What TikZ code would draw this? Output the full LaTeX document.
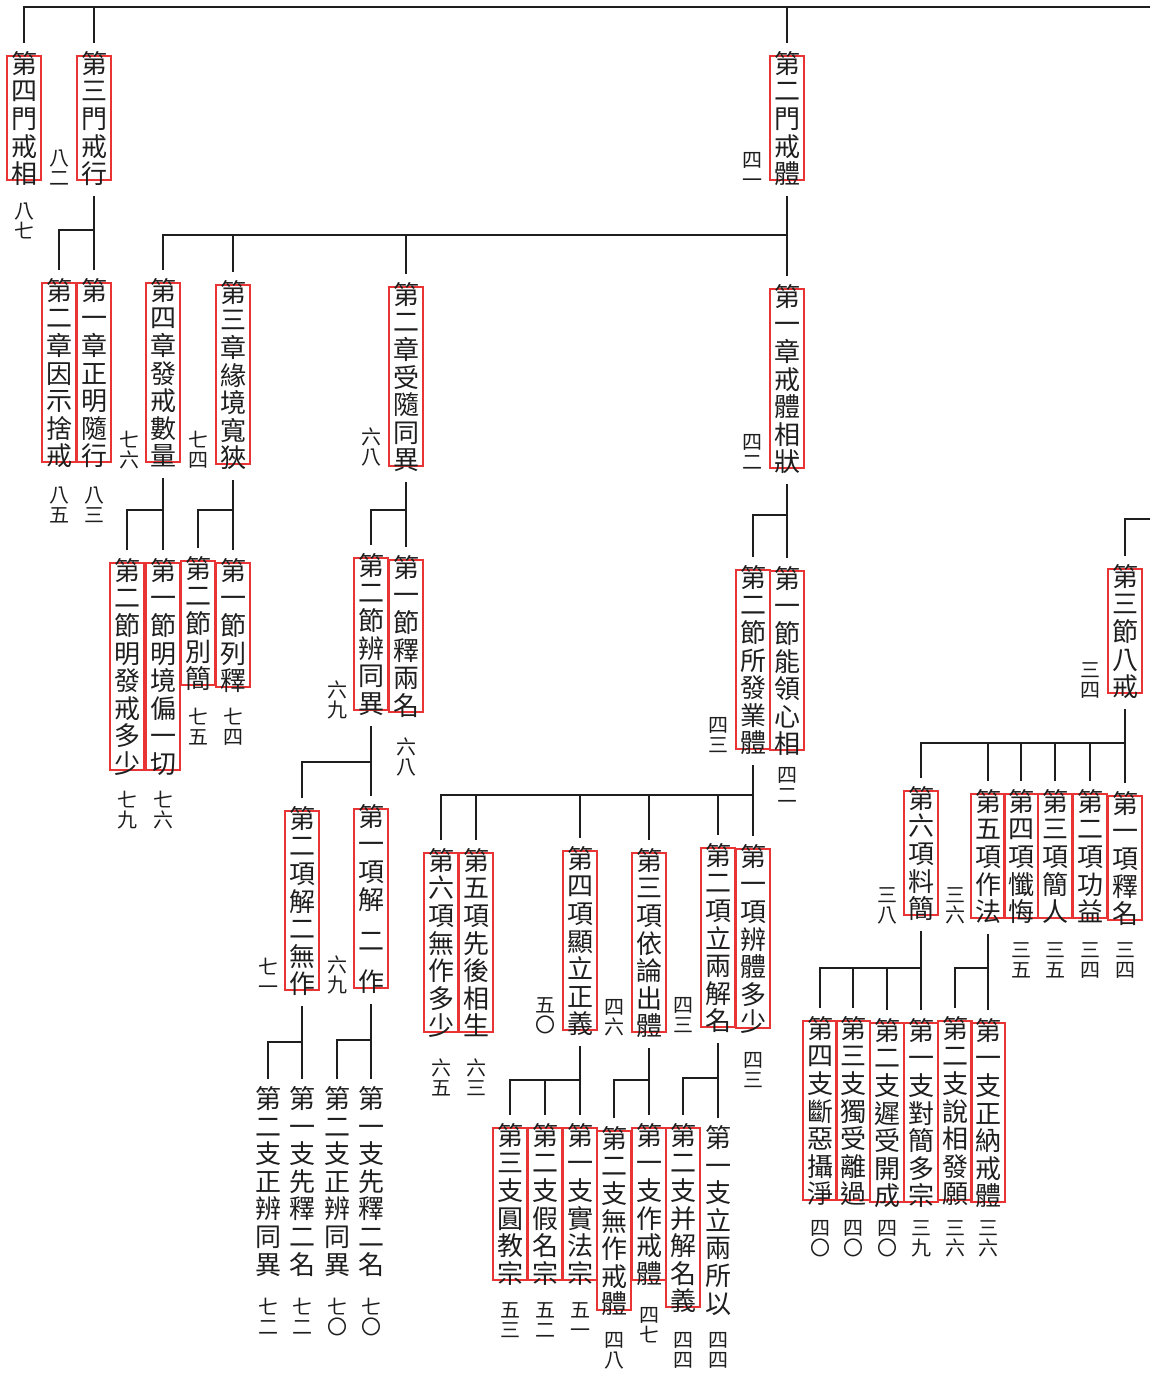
\documentclass[tikz,border=0pt]{standalone}
\usepackage{fontspec}
\newfontfamily\cjk{Noto Sans CJK TC}
\definecolor{boxred}{RGB}{232,52,52}
\definecolor{ink}{RGB}{30,30,30}
\newdimen\vtp \newdimen\vtw
\def\vtend{vtend-marker}
\def\hs{hs-marker}
\def\vtl#1{\ifx#1\vtend\else\ifx#1\hs\kern.5\vtp\else\hbox to\vtw{\vrule width0pt height.88\vtp depth.12\vtp\hss#1\hss}\fi\expandafter\vtl\fi}
\newcommand\vtm[1]{\vtp=27.6pt\vtw=26pt\vbox{\offinterlineskip\vtl#1\vtend}}
\newcommand\vtn[1]{\vtp=20.5pt\vtw=20pt\vbox{\offinterlineskip\vtl#1\vtend}}
\newcommand\brk[3]{\draw[ln] ([yshift=-16pt]#1.south) -- (#1.south |- 0,#2);
  \foreach \c in {#3}{\draw[ln] (#1.south |- 0,#2) -| ([yshift=13pt]\c.north);}}
\begin{document}
\begin{tikzpicture}[x=1pt,y=-1pt,
  ln/.style={draw=ink, line width=1.3pt, line cap=rect},
  tx/.style={font=\cjk\fontsize{26pt}{27.6pt}\selectfont, text=ink, inner xsep=4pt, inner ysep=-7pt, anchor=north},
  bx/.style={tx, draw=boxred, line width=1.9pt},
  nm/.style={font=\cjk\fontsize{20pt}{20.5pt}\selectfont, text=ink, inner sep=0pt, anchor=north}]
\useasboundingbox (0,0) rectangle (1149,1375);
% level 1
\node[bx] (A4) at (24,55) {\vtm{第四門戒相}};
\node[bx] (A3) at (94,55) {\vtm{第三門戒行}};
\node[bx] (A2) at (787,55) {\vtm{第二門戒體}};
\node[nm] (nA4) at (24,200) {\vtn{八七}};
\node[nm] (nA3) at (59,147) {\vtn{八二}};
\node[nm] (nA2) at (752,149) {\vtn{四一}};
% level 2
\node[bx] (B32) at (59,282) {\vtm{第二章因示捨戒}};
\node[bx] (B31) at (94,282) {\vtm{第一章正明隨行}};
\node[nm] (nB32) at (59,484) {\vtn{八五}};
\node[nm] (nB31) at (94,484) {\vtn{八三}};
\node[bx] (B24) at (163,282) {\vtm{第四章發戒數量}};
\node[bx] (B23) at (233,284) {\vtm{第三章緣境寬狹}};
\node[bx] (B22) at (406,286) {\vtm{第二章受隨同異}};
\node[bx] (B21) at (787,288) {\vtm{第一章戒體相狀}};
\node[nm] (nB24) at (129,429) {\vtn{七六}};
\node[nm] (nB23) at (198,429) {\vtn{七四}};
\node[nm] (nB22) at (371,426) {\vtn{六八}};
\node[nm] (nB21) at (752,431) {\vtn{四二}};
% level 3
\node[bx] (C242) at (127,562) {\vtm{第二節明發戒多少}};
\node[bx] (C241) at (163,562) {\vtm{第一節明境偏一切}};
\node[nm] (nC242) at (127,789) {\vtn{七九}};
\node[nm] (nC241) at (163,789) {\vtn{七六}};
\node[bx] (C232) at (198,560) {\vtm{第二節別簡}};
\node[bx] (C231) at (233,562) {\vtm{第一節列釋}};
\node[nm] (nC232) at (198,706) {\vtn{七五}};
\node[nm] (nC231) at (233,706) {\vtn{七四}};
\node[bx] (C222) at (371,557) {\vtm{第二節辨同異}};
\node[bx] (C221) at (406,559) {\vtm{第一節釋兩名}};
\node[nm] (nC222) at (337,679) {\vtn{六九}};
\node[nm] (nC221) at (406,736) {\vtn{六八}};
\node[bx] (C212) at (753,569) {\vtm{第二節所發業體}};
\node[bx] (C211) at (787,570) {\vtm{第一節能領心相}};
\node[nm] (nC212) at (718,714) {\vtn{四三}};
\node[nm] (nC211) at (787,764) {\vtn{四二}};
% level 4 left
\node[bx] (D2) at (302,810) {\vtm{第二項解二無作}};
\node[bx] (D1) at (371,808) {\vtm{第一項解\hs 二\hs 作}};
\node[nm] (nD2) at (268,956) {\vtn{七一}};
\node[nm] (nD1) at (337,954) {\vtn{六九}};
% level 5 left
\node[tx] (E22) at (268,1091) {\vtm{第二支正辨同異}};
\node[tx] (E21) at (302,1091) {\vtm{第一支先釋二名}};
\node[tx] (E12) at (337,1091) {\vtm{第二支正辨同異}};
\node[tx] (E11) at (371,1091) {\vtm{第一支先釋二名}};
\node[nm] (nE22) at (268,1296) {\vtn{七二}};
\node[nm] (nE21) at (302,1296) {\vtn{七二}};
\node[nm] (nE12) at (337,1296) {\vtn{七〇}};
\node[nm] (nE11) at (371,1296) {\vtn{七〇}};
% level 4 middle
\node[bx] (F6) at (441,852) {\vtm{第六項無作多少}};
\node[bx] (F5) at (476,852) {\vtm{第五項先後相生}};
\node[bx] (F4) at (580,850) {\vtm{第四項顯立正義}};
\node[bx] (F3) at (649,852) {\vtm{第三項依論出體}};
\node[bx] (F2) at (718,847) {\vtm{第二項立兩解名}};
\node[bx] (F1) at (753,848) {\vtm{第一項辨體多少}};
\node[nm] (nF6) at (441,1057) {\vtn{六五}};
\node[nm] (nF5) at (476,1057) {\vtn{六三}};
\node[nm] (nF4) at (545,994) {\vtn{五〇}};
\node[nm] (nF3) at (614,996) {\vtn{四六}};
\node[nm] (nF2) at (683,994) {\vtn{四三}};
\node[nm] (nF1) at (753,1049) {\vtn{四三}};
% level 5 middle
\node[bx] (G43) at (510,1127) {\vtm{第三支圓教宗}};
\node[bx] (G42) at (545,1127) {\vtm{第二支假名宗}};
\node[bx] (G41) at (580,1127) {\vtm{第一支實法宗}};
\node[bx] (G32) at (614,1130) {\vtm{第二支無作戒體}};
\node[bx] (G31) at (649,1127) {\vtm{第一支作戒體}};
\node[bx] (G22) at (683,1127) {\vtm{第二支并解名義}};
\node[tx] (G21) at (718,1130) {\vtm{第一支立兩所以}};
\node[nm] (nG43) at (510,1299) {\vtn{五三}};
\node[nm] (nG42) at (545,1299) {\vtn{五二}};
\node[nm] (nG41) at (580,1299) {\vtn{五一}};
\node[nm] (nG32) at (614,1329) {\vtn{四八}};
\node[nm] (nG31) at (649,1304) {\vtn{四七}};
\node[nm] (nG22) at (683,1329) {\vtn{四四}};
\node[nm] (nG21) at (718,1329) {\vtn{四四}};
% right side
\node[bx] (H) at (1125,568) {\vtm{第三節八戒}};
\node[nm] (nH) at (1090,659) {\vtn{三四}};
\node[bx] (I6) at (921,790) {\vtm{第六項料簡}};
\node[bx] (I5) at (988,793) {\vtm{第五項作法}};
\node[bx] (I4) at (1021,793) {\vtm{第四項懺悔}};
\node[bx] (I3) at (1055,793) {\vtm{第三項簡人}};
\node[bx] (I2) at (1090,793) {\vtm{第二項功益}};
\node[bx] (I1) at (1125,795) {\vtm{第一項釋名}};
\node[nm] (nI6) at (887,884) {\vtn{三八}};
\node[nm] (nI5) at (955,884) {\vtn{三六}};
\node[nm] (nI4) at (1021,939) {\vtn{三五}};
\node[nm] (nI3) at (1055,939) {\vtn{三五}};
\node[nm] (nI2) at (1090,939) {\vtn{三四}};
\node[nm] (nI1) at (1125,939) {\vtn{三四}};
\node[bx] (J4) at (820,1020) {\vtm{第四支斷惡攝淨}};
\node[bx] (J3) at (853,1020) {\vtm{第三支獨受離過}};
\node[bx] (J2) at (887,1022) {\vtm{第二支遲受開成}};
\node[bx] (J1) at (921,1022) {\vtm{第一支對簡多宗}};
\node[bx] (J52) at (955,1020) {\vtm{第二支說相發願}};
\node[bx] (J51) at (988,1022) {\vtm{第一支正納戒體}};
\node[nm] (nJ4) at (820,1217) {\vtn{四〇}};
\node[nm] (nJ3) at (853,1217) {\vtn{四〇}};
\node[nm] (nJ2) at (887,1217) {\vtn{四〇}};
\node[nm] (nJ1) at (921,1217) {\vtn{三九}};
\node[nm] (nJ52) at (955,1217) {\vtn{三六}};
\node[nm] (nJ51) at (988,1217) {\vtn{三六}};
% connectors
\coordinate (TR) at (1149,7);
\draw[ln] (TR) -| ([yshift=13pt]A4.north);
\draw[ln] (A3.north |- TR) -- ([yshift=13pt]A3.north);
\draw[ln] (A2.north |- TR) -- ([yshift=13pt]A2.north);
\coordinate (RR) at (1149,519);
\draw[ln] (RR) -| ([yshift=13pt]H.north);
\brk{A3}{230}{B32,B31}
\brk{A2}{235}{B24,B23,B22,B21}
\brk{B24}{510}{C242,C241}
\brk{B23}{510}{C232,C231}
\brk{B22}{510}{C222,C221}
\brk{B21}{515}{C212,C211}
\brk{C222}{762}{D2,D1}
\brk{D2}{1042}{E22,E21}
\brk{D1}{1040}{E12,E11}
\brk{C212}{795}{F6,F5,F4,F3,F2,F1}
\brk{F4}{1080}{G43,G42,G41}
\brk{F3}{1080}{G32,G31}
\brk{F2}{1078}{G22,G21}
\brk{H}{743}{I6,I5,I4,I3,I2,I1}
\brk{I6}{968}{J4,J3,J2,J1}
\brk{I5}{968}{J52,J51}
\end{tikzpicture}
\end{document}
